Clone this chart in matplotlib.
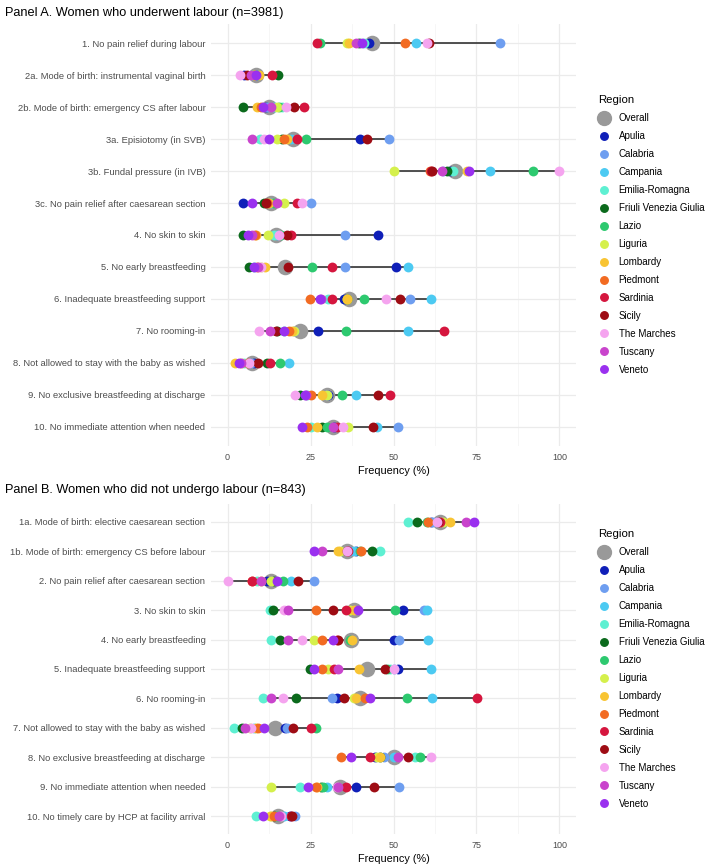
import matplotlib
matplotlib.use("Agg")
import matplotlib.pyplot as plt
from matplotlib.lines import Line2D
import numpy as np

plt.rcParams['font.family'] = ['Liberation Sans', 'DejaVu Sans']

regions = ["Apulia", "Calabria", "Campania", "Emilia-Romagna", "Friuli Venezia Giulia",
           "Lazio", "Liguria", "Lombardy", "Piedmont", "Sardinia", "Sicily",
           "The Marches", "Tuscany", "Veneto"]
region_colors = ["#0f1fb8", "#6e9ef0", "#4ccaf2", "#5ef0d2", "#0b6a1c", "#2dc96f",
                 "#d5f04c", "#f8c433", "#f26b22", "#d5163e", "#9e0c14",
                 "#f5a4ef", "#c944cc", "#9a30ef"]

panel_a_title = "Panel A. Women who underwent labour (n=3981)"
panel_a_labels = ["1. No pain relief during labour",
                  "2a. Mode of birth: instrumental vaginal birth",
                  "2b. Mode of birth: emergency CS after labour",
                  "3a. Episiotomy (in SVB)",
                  "3b. Fundal pressure (in IVB)",
                  "3c. No pain relief after caesarean section",
                  "4. No skin to skin",
                  "5. No early breastfeeding",
                  "6. Inadequate breastfeeding support",
                  "7. No rooming-in",
                  "8. Not allowed to stay with the baby as wished",
                  "9. No exclusive breastfeeding at discharge",
                  "10. No immediate attention when needed"]
# columns follow `regions`
panel_a_values = [
    [42.5, 82.0, 56.8, 41.0, 39.5, 27.8, 36.0, 36.5, 53.5, 27.0, 60.8, 60.0, 38.7, 40.5],
    [4.8, 8.0, 9.0, 7.5, 15.2, 9.0, 8.0, 9.5, 8.0, 13.5, 5.8, 3.6, 7.0, 8.5],
    [11.5, 12.0, 14.0, 16.4, 4.6, 15.5, 15.0, 8.8, 10.0, 22.9, 20.0, 17.7, 13.0, 10.6],
    [39.8, 48.7, 19.0, 9.8, 16.4, 23.6, 15.0, 17.9, 17.0, 20.9, 42.0, 11.1, 7.3, 12.6],
    [67.0, 65.0, 79.0, 68.0, 66.0, 91.9, 50.0, 72.0, 61.0, 61.2, 61.6, 100.0, 64.6, 72.9],
    [4.5, 25.1, 13.0, 12.0, 11.0, 14.0, 16.9, 12.5, 12.0, 20.9, 11.5, 22.4, 14.9, 7.3],
    [45.2, 35.4, 15.0, 14.0, 4.5, 16.0, 12.3, 8.6, 8.3, 19.2, 17.9, 15.6, 7.3, 6.3],
    [50.8, 35.4, 54.5, 8.0, 6.6, 25.4, 10.0, 11.3, 9.0, 31.6, 18.2, 10.0, 9.3, 8.0],
    [35.0, 55.0, 61.2, 30.4, 36.0, 41.0, 35.9, 36.0, 24.9, 31.6, 52.0, 47.7, 28.0, 27.7],
    [27.1, 20.0, 54.5, 17.0, 15.0, 35.7, 20.0, 19.4, 18.4, 65.1, 14.7, 9.6, 12.7, 16.9],
    [8.0, 7.0, 18.6, 5.0, 12.0, 15.9, 4.0, 2.3, 6.0, 12.7, 9.1, 6.6, 4.0, 3.3],
    [30.4, 30.0, 38.7, 24.0, 21.9, 34.5, 30.0, 28.4, 25.1, 48.8, 45.3, 20.4, 23.6, 23.4],
    [32.0, 51.5, 45.0, 25.2, 28.4, 30.0, 36.4, 26.9, 23.9, 33.0, 43.8, 34.9, 31.9, 22.4],
]
panel_a_overall = [43.5, 8.6, 12.6, 19.7, 68.4, 13.2, 14.7, 17.2, 36.7, 21.9, 7.3, 29.9, 31.7]

panel_b_title = "Panel B. Women who did not undergo labour (n=843)"
panel_b_labels = ["1a. Mode of birth: elective caesarean section",
                  "1b. Mode of birth: emergency CS before labour",
                  "2. No pain relief after caesarean section",
                  "3. No skin to skin",
                  "4. No early breastfeeding",
                  "5. Inadequate breastfeeding support",
                  "6. No rooming-in",
                  "7. Not allowed to stay with the baby as wished",
                  "8. No exclusive breastfeeding at discharge",
                  "9. No immediate attention when needed",
                  "10. No timely care by HCP at facility arrival"]
panel_b_values = [
    [61.3, 62.0, 63.0, 54.3, 57.0, 60.0, 65.0, 66.9, 60.5, 64.0, 63.5, 63.0, 71.8, 74.3],
    [38.8, 37.0, 38.0, 46.0, 43.5, 40.0, 34.0, 33.4, 40.2, 36.4, 35.9, 36.0, 28.4, 26.0],
    [12.0, 25.9, 19.1, 9.0, 14.0, 16.7, 13.0, 10.0, 7.5, 7.3, 21.2, 0.0, 10.1, 14.9],
    [53.0, 59.2, 60.2, 12.9, 13.7, 50.5, 37.0, 38.0, 26.6, 35.7, 31.7, 16.9, 18.1, 39.2],
    [50.2, 51.7, 60.3, 13.1, 15.9, 37.0, 26.1, 37.4, 28.4, 32.9, 33.4, 22.4, 18.2, 31.7],
    [51.5, 50.0, 61.2, 49.0, 24.7, 48.0, 30.4, 39.5, 28.6, 32.2, 47.5, 50.0, 33.4, 26.1],
    [32.9, 31.4, 61.5, 10.6, 20.7, 54.0, 38.0, 38.8, 41.5, 75.1, 35.2, 16.7, 13.1, 42.8],
    [17.2, 18.0, 8.0, 2.0, 4.3, 26.7, 6.8, 8.5, 9.3, 25.1, 19.6, 7.0, 5.3, 11.1],
    [44.5, 47.0, 50.0, 56.5, 46.0, 58.0, 45.0, 46.0, 34.1, 43.0, 54.5, 61.2, 51.5, 37.1],
    [38.7, 51.7, 30.0, 21.7, 28.0, 28.7, 13.1, 27.0, 26.6, 35.7, 44.0, 33.0, 33.4, 24.2],
    [18.9, 20.4, 17.0, 8.6, 14.0, 15.0, 12.9, 13.0, 14.0, 19.0, 19.4, 16.0, 15.6, 10.8],
]
panel_b_overall = [63.9, 35.9, 13.2, 38.2, 37.1, 42.0, 39.8, 14.4, 50.0, 33.9, 15.1]

x_ticks = [0, 25, 50, 75, 100]
x_label = "Frequency (%)"
overall_label = "Overall"
legend_title = "Region"

W, H = 709, 866
fig = plt.figure(figsize=(W / 100, H / 100), dpi=100)

def px_axes(left, top, right, bottom):
    return fig.add_axes([left / W, 1 - bottom / H, (right - left) / W, (bottom - top) / H])

def draw_panel(ax, labels, values, overall, title, title_y):
    n = len(labels)
    vals = np.array(values)
    ypos = np.arange(n)
    ax.set_xlim(-5, 105)
    ax.set_ylim(n - 0.4, -0.6)
    # grid
    for x in np.arange(0, 101, 25):
        ax.axvline(x, color="#ebebeb", lw=0.9, zorder=0)
    for x in np.arange(12.5, 100, 25):
        ax.axvline(x, color="#f3f3f3", lw=0.5, zorder=0)
    for y in ypos:
        ax.axhline(y, color="#ebebeb", lw=0.9, zorder=0)
    # range segments
    ax.hlines(ypos, vals.min(axis=1), vals.max(axis=1), color="#333333", lw=1.2, zorder=1)
    # overall
    ax.scatter(overall, ypos, s=125, color="#999999", zorder=2, linewidths=0)
    # regions
    for j, (reg, col) in enumerate(zip(regions, region_colors)):
        ax.scatter(vals[:, j], ypos, s=50, color=col, zorder=3 + j * 0.01, linewidths=0)
    ax.set_yticks(ypos)
    ax.set_yticklabels(labels, fontsize=6.75, color="#4d4d4d")
    ax.set_xticks(x_ticks)
    ax.set_xticklabels([str(t) for t in x_ticks], fontsize=6.5, color="#4d4d4d")
    ax.tick_params(length=0, pad=4)
    ax.tick_params(axis='x', pad=5)
    ax.set_xlabel(x_label, fontsize=7.8, labelpad=3)
    for s in ax.spines.values():
        s.set_visible(False)
    fig.text(5 / W, 1 - title_y / H, title, fontsize=9.2, va="center", ha="left")
    handles = [Line2D([], [], marker='o', ls='', color="#999999", markersize=10, label=overall_label)]
    for reg, col in zip(regions, region_colors):
        handles.append(Line2D([], [], marker='o', ls='', color=col, markersize=5.4, label=reg))
    leg = ax.legend(handles=handles, title=legend_title, loc="center left",
                    bbox_to_anchor=(0.05, 0.5), bbox_transform=ax.transAxes,
                    frameon=False, fontsize=7.0,
                    title_fontsize=8.2, labelspacing=0.82, handletextpad=0.9,
                    handlelength=1.2, borderaxespad=0, borderpad=0.4)
    leg.set_bbox_to_anchor((1.05, 0.5), transform=ax.transAxes)
    leg._legend_box.align = "left"

axA = px_axes(211, 24, 576, 446)
draw_panel(axA, panel_a_labels, panel_a_values, panel_a_overall, panel_a_title, 13)
axB = px_axes(211, 504, 576, 834)
draw_panel(axB, panel_b_labels, panel_b_values, panel_b_overall, panel_b_title, 490)

fig.savefig("out.png", dpi=100, facecolor="white")
